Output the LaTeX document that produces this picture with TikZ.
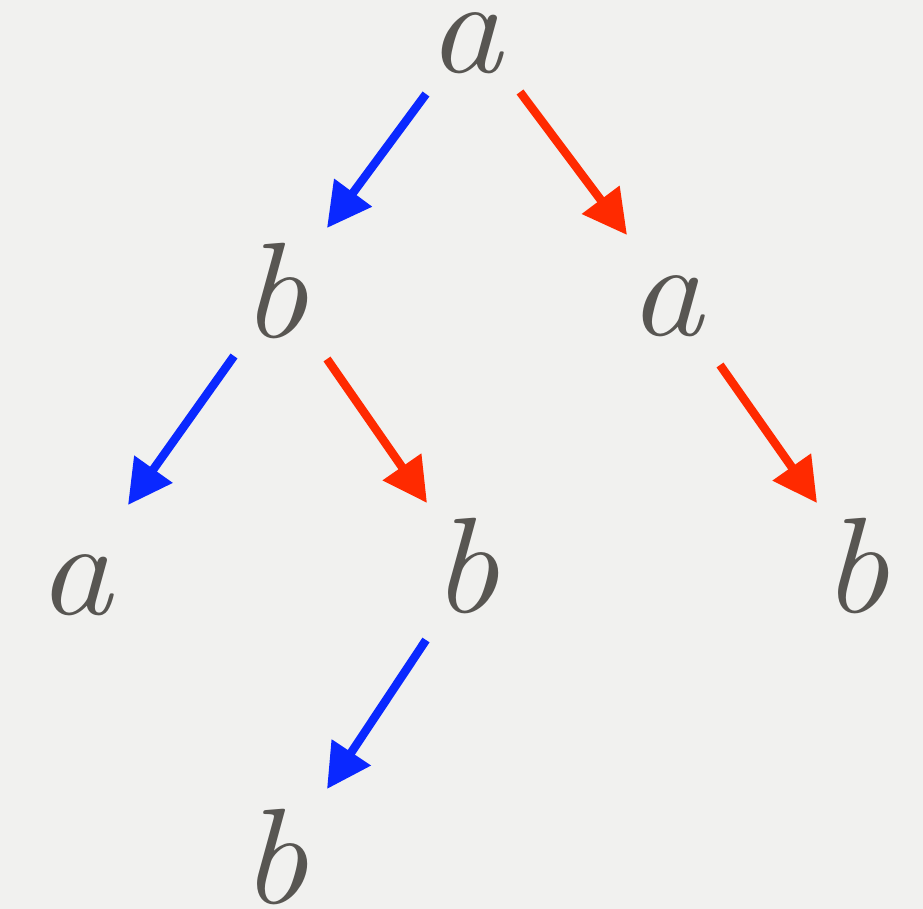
\documentclass[tikz,border=0pt]{standalone}
\usetikzlibrary{arrows.meta,calc}
\definecolor{bg}{HTML}{F1F1EF}
\definecolor{ink}{HTML}{585652}
\definecolor{ablue}{HTML}{0A28FF}
\definecolor{ared}{HTML}{FF2A00}
\tikzset{
  letter/.style={anchor=base, inner sep=0pt, text=ink, xscale=1.1, font=\fontsize{136}{136}\selectfont\itshape},
  edge/.style={line width=8.5pt, -{Triangle[length=44pt,width=45pt]}},
  bedge/.style={edge, draw=ablue, fill=ablue},
  redge/.style={edge, draw=ared, fill=ared}
}
\begin{document}
\begin{tikzpicture}[x=1pt,y=-1pt]
\fill[bg] (0,0) rectangle (923,909);
\useasboundingbox (0,0) rectangle (923,909);
\node[letter] (a1) at (465,73) {a};
\node[letter] (b1) at (274,337) {b};
\node[letter] (a2) at (666,335) {a};
\node[letter] (a3) at (75,614) {a};
\node[letter] (b2) at (465,612) {b};
\node[letter] (b3) at (855,612) {b};
\node[letter] (b4) at (274,903) {b};
\draw[bedge] ($(a1.base)+(-39,21)$) -- ($(b1.base)+(53,-109)$);
\draw[redge] ($(a1.base)+(55,19)$) -- ($(a2.base)+(-39,-100)$);
\draw[bedge] ($(b1.base)+(-40,19)$) -- ($(a3.base)+(53,-109)$);
\draw[redge] ($(b1.base)+(53,22)$) -- ($(b2.base)+(-38,-109)$);
\draw[redge] ($(a2.base)+(54,30)$) -- ($(b3.base)+(-38,-109)$);
\draw[bedge] ($(b2.base)+(-39,28)$) -- ($(b4.base)+(53,-114)$);
\end{tikzpicture}
\end{document}
